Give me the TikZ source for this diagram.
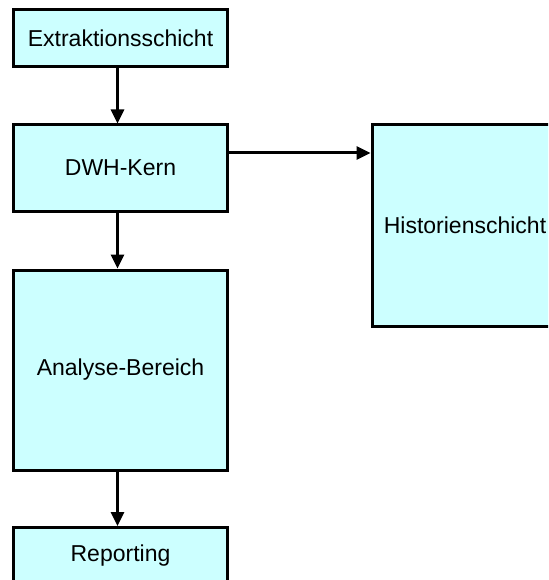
\documentclass[tikz,border=0pt]{standalone}
\usepackage{fontspec}
\setmainfont{Liberation Sans}
\usetikzlibrary{arrows.meta}
\definecolor{boxfill}{HTML}{CCFFFF}
\begin{document}
\begin{tikzpicture}[x=1pt,y=1pt,
  box/.style={draw=black, fill=boxfill, line width=3pt, inner sep=0pt,
    font=\fontsize{23}{27}\selectfont, align=center},
  conn/.style={line width=3pt, -{Triangle[length=14pt,width=13pt]}}]
\useasboundingbox (0,0) rectangle (548,-580);
\clip (0,0) rectangle (548,-580);
\node[box, minimum width=214pt, minimum height=57pt] (ext) at (120.5,-38.5) {Extraktionsschicht};
\node[box, minimum width=214pt, minimum height=86pt] (dwh) at (120.5,-168) {DWH-Kern};
\node[box, minimum width=186pt, minimum height=201pt] (hist) at (465,-225.5) {Historienschicht};
\node[box, minimum width=214pt, minimum height=200pt] (ana) at (120.5,-370) {Analyse-Bereich};
\node[box, minimum width=214pt, minimum height=57pt] (rep) at (120.5,-556) {Reporting};
\draw[conn] ([xshift=-3pt]ext.south) -- ([xshift=-3pt]dwh.north);
\draw[conn] ([xshift=-3pt]dwh.south) -- ([xshift=-3pt]ana.north);
\draw[conn] ([xshift=-3pt]ana.south) -- ([xshift=-3pt]rep.north);
\draw[conn] ([yshift=15pt]dwh.east) -- ([yshift=15pt]dwh.east -| hist.west);
\end{tikzpicture}
\end{document}
